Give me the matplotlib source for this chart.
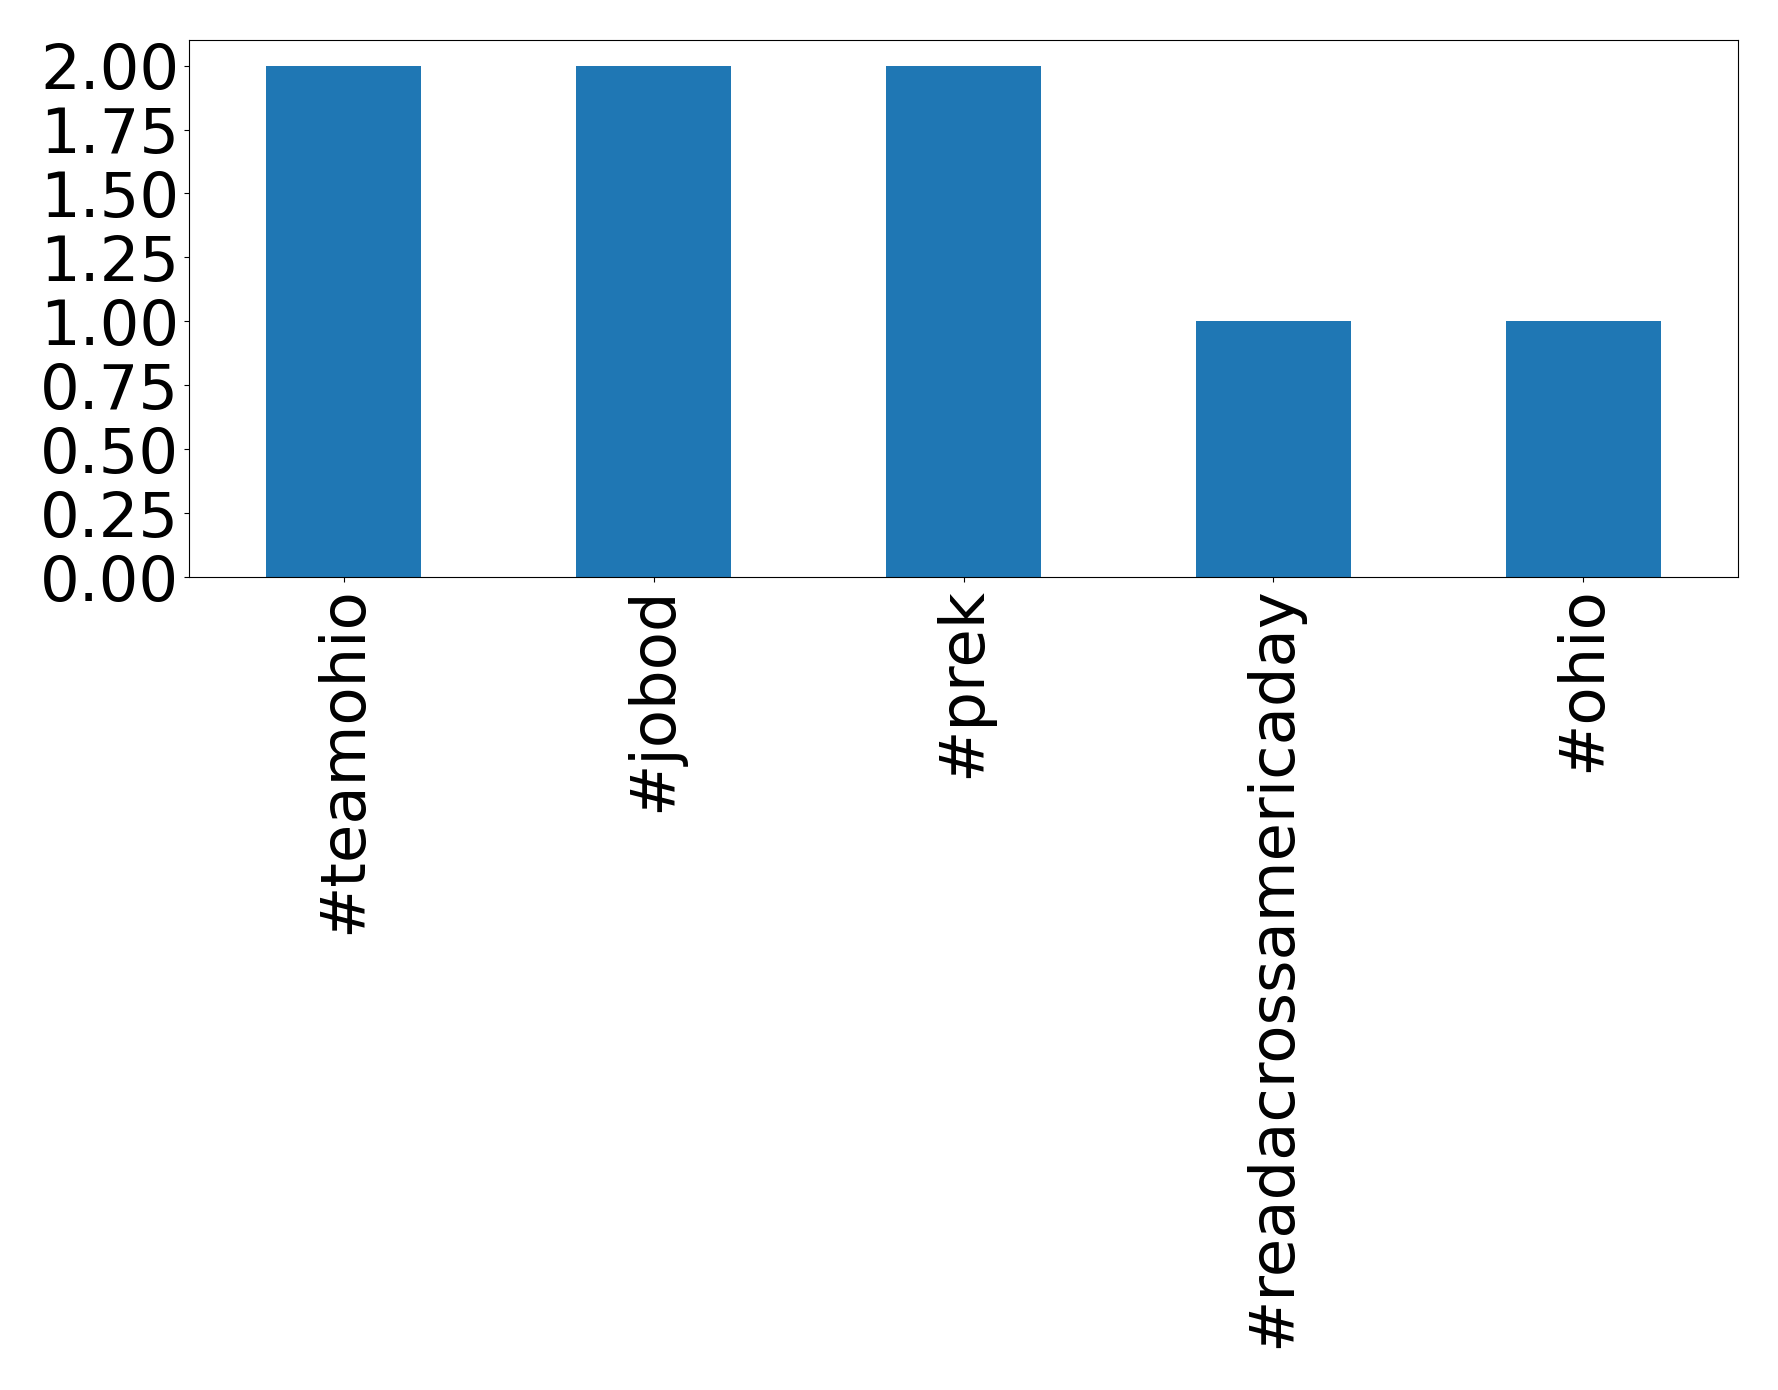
import matplotlib
matplotlib.use('Agg')
import matplotlib.pyplot as plt
from matplotlib.ticker import MultipleLocator, FormatStrFormatter
import pandas as pd

# hashtag counts
tags = ['#teamohio', '#jobod', '#prek', '#readacrossamericaday', '#ohio']
counts = [2, 2, 2, 1, 1]

s = pd.Series(counts, index=tags)

fig = plt.figure(figsize=(17.78, 13.9), dpi=100)
ax = fig.add_axes([189 / 1778, 1 - 577 / 1390, (1738 - 189) / 1778, (577 - 40) / 1390])
s.plot(kind='bar', ax=ax, color='#1f77b4')
ax.yaxis.set_major_locator(MultipleLocator(0.25))
ax.yaxis.set_major_formatter(FormatStrFormatter('%.2f'))
ax.tick_params(axis='both', labelsize=45)
plt.setp(ax.get_xticklabels(), rotation=90)

fig.savefig('out.png', dpi=100)
